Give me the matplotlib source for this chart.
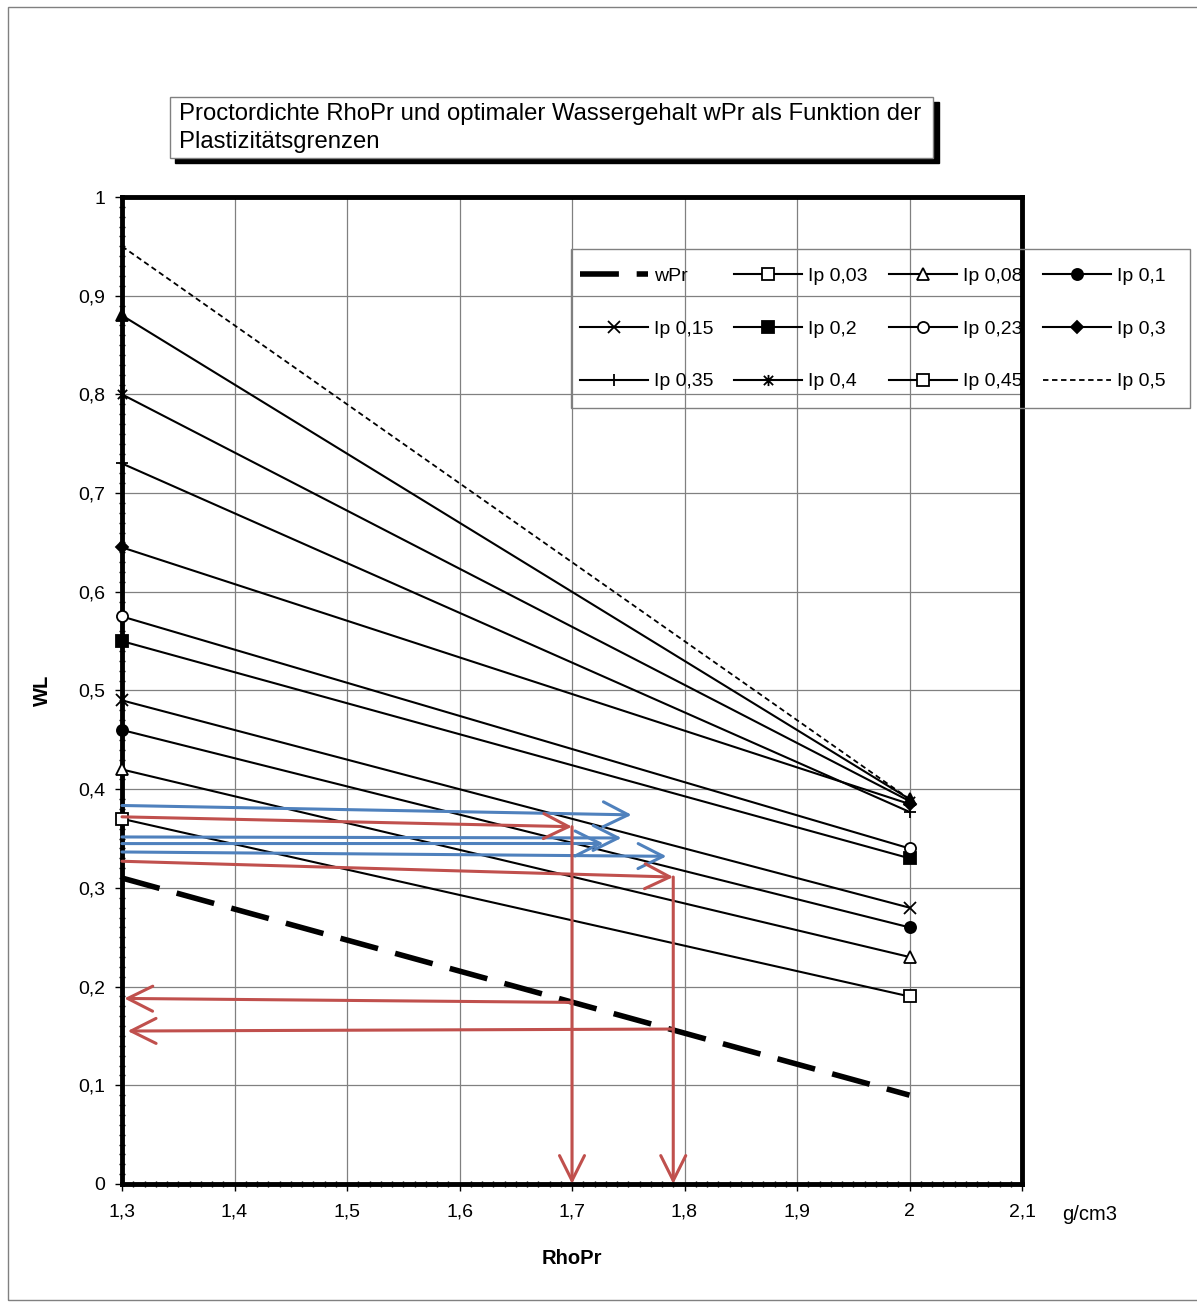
import matplotlib
matplotlib.use("Agg")
import matplotlib.pyplot as plt
from matplotlib.lines import Line2D
from matplotlib.patches import Rectangle
from matplotlib.path import Path
from matplotlib.ticker import MultipleLocator, FuncFormatter

plt.rcParams['font.family'] = ['Liberation Sans', 'DejaVu Sans']

# data
rho = [1.3, 2.0]
wpr = [0.31, 0.09]
ip_labels = ['Ip 0,03', 'Ip 0,08', 'Ip 0,1', 'Ip 0,15', 'Ip 0,2', 'Ip 0,23',
             'Ip 0,3', 'Ip 0,35', 'Ip 0,4', 'Ip 0,45', 'Ip 0,5']
wl_left = [0.37, 0.42, 0.46, 0.49, 0.55, 0.575, 0.645, 0.73, 0.80, 0.88, 0.95]
wl_right = [0.19, 0.23, 0.26, 0.28, 0.33, 0.34, 0.385, 0.377, 0.388, 0.39, 0.39]

# x with a vertical bar, like the Excel "star" marker
star = Path([(-1, -1), (1, 1), (-1, 1), (1, -1), (0, -1.2), (0, 1.2)],
            [Path.MOVETO, Path.LINETO, Path.MOVETO, Path.LINETO,
             Path.MOVETO, Path.LINETO])
markers = ['s', '^', 'o', 'x', 's', 'o', 'D', '+', star, '^', '']
filled = [False, False, True, False, True, False, True, False, False, True, False]

# annotation arrows (start x, start y, end x, end y)
blue_arrows = [(1.3, 0.3835, 1.753, 0.374),
               (1.3, 0.3516, 1.744, 0.3506),
               (1.3, 0.3449, 1.728, 0.345),
               (1.3, 0.3364, 1.784, 0.332)]
red_arrows = [(1.3, 0.372, 1.70, 0.362),
              (1.70, 0.362, 1.70, 0.0),
              (1.3, 0.327, 1.79, 0.311),
              (1.79, 0.311, 1.79, 0.0),
              (1.70, 0.184, 1.302, 0.188),
              (1.79, 0.157, 1.305, 0.155)]

W, H = 1197, 1303
fig = plt.figure(figsize=(W / 100, H / 100), dpi=100)

# outer chart frame
fig.patches.append(Rectangle((8 / W, 1 - 1300 / H), (W + 20) / W, 1293 / H,
                             transform=fig.transFigure, fill=False,
                             edgecolor='#808080', lw=1))

ax = fig.add_axes([122 / W, 1 - 1184 / H, 900 / W, 987 / H])
ax.set_xlim(1.3, 2.1)
ax.set_ylim(0, 1)

ax.plot(rho, wpr, color='black', lw=4, dashes=(7, 3.2), label='wPr', zorder=5)

handles = []
for i, lab in enumerate(ip_labels):
    if isinstance(markers[i], str) and markers[i] == '':
        ln, = ax.plot(rho, [wl_left[i], wl_right[i]], color='black', lw=1.3,
                      dashes=(3, 2), label=lab, zorder=5)
    else:
        fc = 'black' if filled[i] else 'white'
        ms = 8
        if isinstance(markers[i], Path):
            fc = 'none'
        elif markers[i] == 'D':
            ms = 6
        ln, = ax.plot(rho, [wl_left[i], wl_right[i]], color='black', lw=1.5,
                      marker=markers[i], markersize=ms, markerfacecolor=fc,
                      markeredgecolor='black', markeredgewidth=1.3,
                      label=lab, clip_on=False, zorder=6)
    handles.append(ln)

# legend shows an open square for Ip 0,45
handles[9] = Line2D([], [], color='black', lw=1.5, marker='s', markersize=8,
                    markerfacecolor='white', markeredgecolor='black',
                    markeredgewidth=1.3, label='Ip 0,45')

for x0, y0, x1, y1 in blue_arrows:
    ax.annotate('', xy=(x1, y1), xytext=(x0, y0),
                arrowprops=dict(arrowstyle='->,head_length=0.9,head_width=0.45',
                                color='#4F81BD', lw=2.2, mutation_scale=20,
                                shrinkA=0, shrinkB=0), zorder=8)
for x0, y0, x1, y1 in red_arrows:
    ax.annotate('', xy=(x1, y1), xytext=(x0, y0),
                arrowprops=dict(arrowstyle='->,head_length=0.9,head_width=0.45',
                                color='#C0504D', lw=2.2, mutation_scale=20,
                                shrinkA=0, shrinkB=0), zorder=8)

ax.xaxis.set_major_locator(MultipleLocator(0.1))
ax.xaxis.set_minor_locator(MultipleLocator(0.01))
ax.yaxis.set_major_locator(MultipleLocator(0.1))
ax.yaxis.set_minor_locator(MultipleLocator(0.01))
fmt = FuncFormatter(lambda v, p: '{:g}'.format(round(v, 2)).replace('.', ','))
ax.xaxis.set_major_formatter(fmt)
ax.yaxis.set_major_formatter(fmt)
ax.tick_params(which='major', direction='out', length=5, width=1,
               labelsize=14, pad=7)
ax.tick_params(axis='x', which='major', pad=9)
ax.tick_params(which='minor', direction='inout', length=5, width=1)
ax.grid(True, which='major', color='#808080', lw=0.9)
ax.set_axisbelow(True)
for s in ax.spines.values():
    s.set_linewidth(3.5)

fig.text(42 / W, 1 - 690 / H, 'WL', rotation=90, fontsize=14.5,
         fontweight='bold', ha='center', va='center')
fig.text(572 / W, 1 - 1258 / H, 'RhoPr', fontsize=14.5, fontweight='bold',
         ha='center', va='center')
fig.text(1062 / W, 1 - 1215 / H, 'g/cm3', fontsize=14.5, ha='left', va='center')

# title box with shadow
fig.patches.append(Rectangle((175 / W, 1 - 163 / H), 764 / W, 61 / H,
                             transform=fig.transFigure, facecolor='black',
                             edgecolor='black'))
fig.patches.append(Rectangle((170 / W, 1 - 158 / H), 763 / W, 61 / H,
                             transform=fig.transFigure, facecolor='white',
                             edgecolor='#808080', lw=1))
fig.text(179 / W, 1 - 114 / H, 'Proctordichte RhoPr und optimaler Wassergehalt wPr als Funktion der',
         fontsize=17.2, ha='left', va='center')
fig.text(179 / W, 1 - 142 / H, 'Plastizitätsgrenzen', fontsize=17.2,
         ha='left', va='center')

# legend frame drawn separately (transparent, gray border)
fig.patches.append(Rectangle((571 / W, 1 - 408 / H), 619 / W, 159 / H,
                             transform=fig.transFigure, fill=False,
                             edgecolor='#808080', lw=1))
all_h = [ax.lines[0]] + handles
order = [0, 4, 8, 1, 5, 9, 2, 6, 10, 3, 7, 11]
leg = fig.legend([all_h[k] for k in order], [all_h[k].get_label() for k in order],
                 ncol=4, loc='upper left',
                 bbox_to_anchor=(580 / W, 1 - 267.5 / H), borderaxespad=0,
                 frameon=False, fontsize=14,
                 handlelength=3.5, handletextpad=0.3, columnspacing=1.08,
                 labelspacing=1.8, borderpad=0, numpoints=1)

fig.savefig('out.png', dpi=100)
